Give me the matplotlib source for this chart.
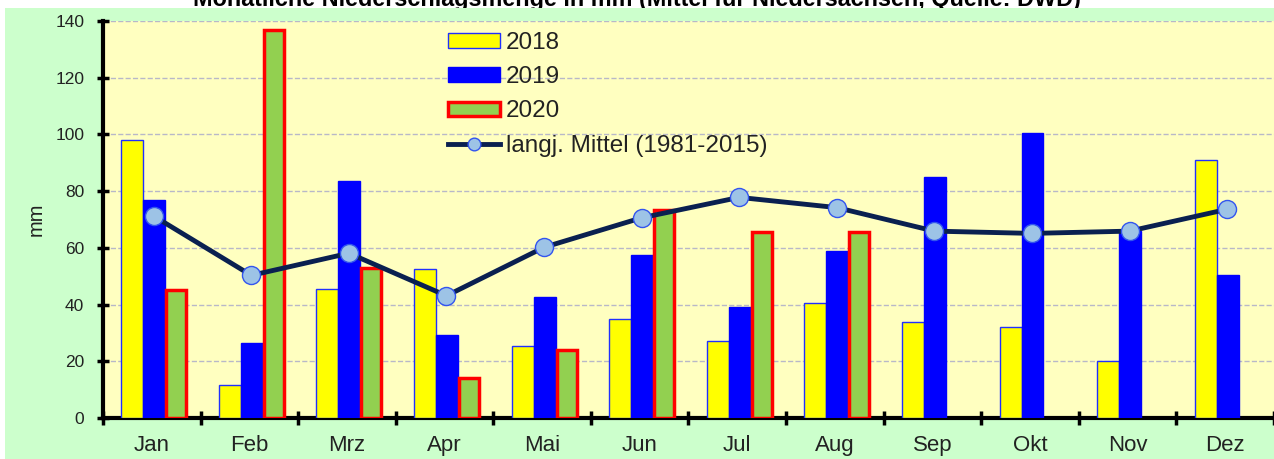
import numpy as np
import matplotlib
matplotlib.use("Agg")
import matplotlib.pyplot as plt
from matplotlib.patches import Rectangle

plt.rcParams["font.family"] = ["Liberation Sans", "DejaVu Sans"]

months = ["Jan", "Feb", "Mrz", "Apr", "Mai", "Jun", "Jul", "Aug", "Sep", "Okt", "Nov", "Dez"]
rain_2018 = [98, 11.5, 45.5, 52.5, 25.5, 35, 27, 40.5, 34, 32, 20, 91]
rain_2019 = [77, 26.5, 83.5, 29.3, 42.7, 57.6, 39.2, 59, 85, 100.5, 66, 50.4]
rain_2020 = [45, 137, 53, 14.2, 24, 73.3, 65.5, 65.5, np.nan, np.nan, np.nan, np.nan]
mean_1981_2015 = [71.2, 50.3, 58.1, 43.1, 60.2, 70.6, 77.8, 74.2, 65.9, 65.1, 65.9, 73.6]

title = "Monatliche Niederschlagsmenge in mm (Mittel für Niedersachsen, Quelle: DWD)"

fig = plt.figure(figsize=(12.74, 4.59), dpi=100)
fig.patch.set_facecolor("white")
fig.text(0.5, 1 - 6 / 459, title, ha="center", va="baseline",
         fontsize=16.8, fontweight="bold", zorder=0.5)
fig.patches.append(Rectangle((5 / 1274, 0), 1, (459 - 8) / 459, transform=fig.transFigure,
                             facecolor="#CCFFCC", edgecolor="none", zorder=1))

ax = fig.add_axes([103 / 1274, 41 / 459, 1 - 103 / 1274, 397 / 459])
ax.set_zorder(2)
ax.set_facecolor("#FFFFC0")

x = np.arange(len(months))
w = 0.225
b18 = ax.bar(x - 0.2, rain_2018, w, color="#FFFF00", edgecolor="#2030FF", linewidth=1, label="2018", zorder=3)
b19 = ax.bar(x + 0.025, rain_2019, w, color="#0000FF", edgecolor="#0000FF", linewidth=1, label="2019", zorder=3)
b20 = ax.bar(x + 0.25, rain_2020, w - 0.02, color="#92D050", edgecolor="#FF0000", linewidth=2.5, label="2020", zorder=3)
ln, = ax.plot(x + 0.02, mean_1981_2015, color="#0A2050", lw=3.5, marker="o", markersize=13,
              markerfacecolor="#9DC3E6", markeredgecolor="#3355EE", markeredgewidth=1,
              label="langj. Mittel (1981-2015)", zorder=4)

ax.set_xlim(-0.5, 11.5)
ax.set_ylim(0, 140)
ax.set_yticks(range(0, 141, 20))
ax.set_xticks(x)
ax.set_xticklabels(months)
ax.set_xticks(np.arange(-0.5, 12, 1), minor=True)
ax.tick_params(axis="x", which="major", length=0, pad=12, labelsize=16, labelcolor="#222222")
ax.tick_params(axis="x", which="minor", length=10, width=2.5, direction="inout", color="black")
ax.tick_params(axis="y", length=9, width=2.5, direction="inout", pad=9, labelsize=12.5, labelcolor="#222222")
ax.grid(axis="y", linestyle="--", color="#B8B8C8", linewidth=1, zorder=0)
ax.set_axisbelow(True)

for s in ["top", "right"]:
    ax.spines[s].set_visible(False)
ax.spines["left"].set_linewidth(3)
ax.spines["bottom"].set_linewidth(3)

ax.set_ylabel("mm", fontsize=14.5, labelpad=7, color="#222222")

leg = ax.legend([b18, b19, b20, ln], ["2018", "2019", "2020", "langj. Mittel (1981-2015)"],
                loc="upper left", bbox_to_anchor=(0.2946, 0.972), frameon=False, fontsize=17.5,
                handlelength=2.15, handleheight=0.55, labelspacing=0.5, handletextpad=0.22,
                borderaxespad=0, markerscale=0.7, borderpad=0)
for t in leg.get_texts():
    t.set_color("#222222")

fig.savefig("out.png", dpi=100)
